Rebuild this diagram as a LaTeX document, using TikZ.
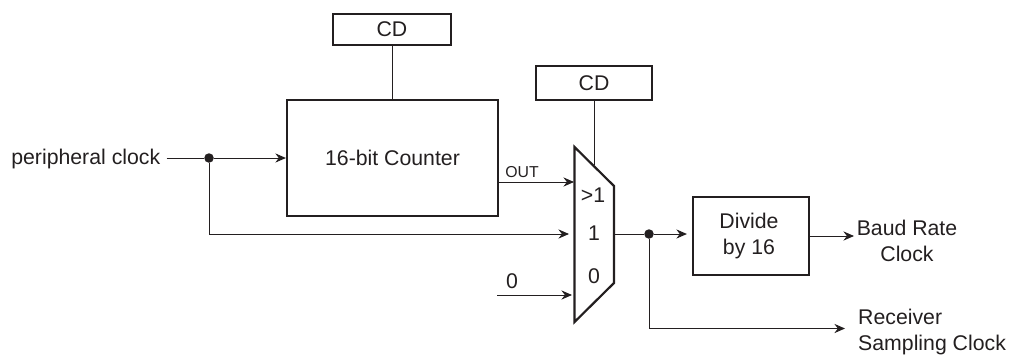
\documentclass[tikz,border=0pt]{standalone}
\usepackage{fontspec}
\setmainfont{Liberation Sans}
\usepackage{xcolor}
\usetikzlibrary{arrows.meta, positioning}
\definecolor{inkblack}{HTML}{231F20}

\begin{document}
\begin{tikzpicture}[
    every node/.style={font=\fontsize{12.1}{14.7}\selectfont, text=inkblack},
    blockbox/.style={draw=inkblack, line width=1.25pt, rectangle, inner sep=0pt},
    wire/.style={draw=inkblack, line width=0.5pt},
    sig/.style={wire, -{Stealth[length=6pt, width=5.2pt]}},
    junction/.style={circle, fill=inkblack, inner sep=0pt, minimum size=0.19cm}
  ]
    \useasboundingbox (0, 0) rectangle (20.2, 7.12);

    % Counter and its CD register
    \node[blockbox, minimum width=4.22cm, minimum height=2.32cm] (counter) at (7.85, 3.96) {16-bit Counter};
    \node[blockbox, minimum width=2.36cm, minimum height=0.62cm] (cdtop) at (7.84, 6.53) {CD};
    \draw[wire] (cdtop.south) -- (counter.north -| cdtop.south);

    % Mux outline
    \coordinate (muxa) at (11.49, 4.18);
    \coordinate (muxb) at (12.28, 3.40);
    \coordinate (muxc) at (12.28, 1.46);
    \coordinate (muxd) at (11.49, 0.68);
    \draw[draw=inkblack, line width=1.25pt, line join=miter] (muxa) -- (muxb) -- (muxc) -- (muxd) -- cycle;
    \node (muxgt) at (11.86, 3.22) {>1};
    \node (muxone) at (11.88, 2.46) {1};
    \node (muxzero) at (11.88, 1.60) {0};

    % Mux CD register
    \node[blockbox, minimum width=2.32cm, minimum height=0.68cm] (cdmux) at (11.88, 5.46) {CD};
    \coordinate (muxtap) at (11.88, 3.82);
    \draw[wire] (cdmux.south) -- (muxtap);

    % Divider
    \node[blockbox, minimum width=2.32cm, minimum height=1.56cm, align=center] (divide) at (15.02, 2.40) {};
    \node[align=center] (dividetxt) at (14.98, 2.40) {Divide\\by 16};

    % Input clock
    \node[anchor=west, inner sep=3.4pt] (periph) at (0.10, 3.94) {peripheral clock};
    \node[junction] (pdot) at (4.18, 3.96) {};
    \draw[wire] (periph.east |- pdot) -- (pdot);
    \draw[sig] (pdot) -- (counter.west |- pdot);
    \coordinate (muxin) at (11.38, 2.44);
    \draw[sig] (pdot) |- (muxin);

    % Counter output
    \coordinate (muxout) at (11.48, 3.48);
    \draw[sig] (counter.east |- muxout) -- (muxout);
    \node[font=\fontsize{9}{11}\selectfont] (outlbl) at (10.44, 3.68) {OUT};

    % Zero input
    \coordinate (zerostart) at (9.94, 1.22);
    \coordinate (zeroend) at (11.44, 1.22);
    \draw[sig] (zerostart) -- (zeroend);
    \node (zerolbl) at (10.24, 1.50) {0};

    % Mux output
    \node[junction] (odot) at (12.98, 2.44) {};
    \draw[wire] (12.28, 2.44) -- (odot);
    \draw[sig, shorten >=0.1cm] (odot) -- (divide.west |- odot);

    % Baud rate output
    \node[align=center] (baud) at (18.14, 2.30) {Baud Rate\\Clock};
    \coordinate (baudin) at (17.08, 2.40);
    \draw[sig] (divide.east) -- (baudin);

    % Receiver output
    \node[anchor=west, align=left] (recv) at (17.04, 0.48) {Receiver\\Sampling Clock};
    \coordinate (recvin) at (16.90, 0.55);
    \draw[sig] (odot) |- (recvin);
  \end{tikzpicture}
\end{document}
